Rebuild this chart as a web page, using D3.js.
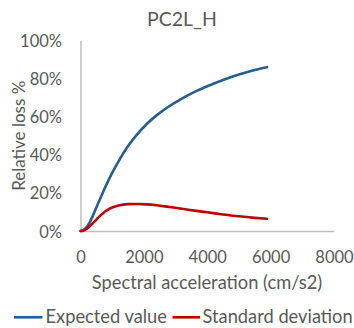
<!DOCTYPE html>
<html>
<head>
<meta charset="utf-8">
<script src="https://cdn.jsdelivr.net/npm/d3@7"></script>
<style>
  html, body { margin: 0; padding: 0; background: #fff; }
  svg { display: block; font-family: Lato, "Open Sans", sans-serif; }
</style>
</head>
<body>
<svg id="chart" width="354" height="328"></svg>
<script>
// ---- data ----
const title = "PC2L_H";
const xLabel = "Spectral acceleration (cm/s2)";
const yLabel = "Relative loss %";
const accel = [0, 100, 200, 300, 400, 500, 600, 700, 800, 900, 1000, 1200, 1500, 1800, 2100, 2400, 2800, 3200, 3600, 4000, 4500, 5000, 5500, 5886];
const expectedValue = [0, 0.006, 0.022, 0.048, 0.084, 0.123, 0.162, 0.200, 0.237, 0.272, 0.305, 0.366, 0.446, 0.510, 0.563, 0.607, 0.655, 0.695, 0.730, 0.760, 0.793, 0.821, 0.845, 0.860];
const standardDeviation = [0, 0.003, 0.012, 0.026, 0.043, 0.060, 0.077, 0.092, 0.105, 0.115, 0.123, 0.134, 0.141, 0.142, 0.140, 0.135, 0.126, 0.117, 0.107, 0.098, 0.087, 0.077, 0.069, 0.064];
const xTicks = [0, 2000, 4000, 6000, 8000];
const yTicks = [0, 0.2, 0.4, 0.6, 0.8, 1.0];
const seriesNames = ["Expected value", "Standard deviation"];
const seriesColors = ["#285E8E", "#C00000"];

// ---- layout ----
const svg = d3.select("#chart");
const textColor = "#595959";
const axisColor = "#BFBFBF";
const fontSize = 16.5;
const labelSize = 18.3;

const x = d3.scaleLinear().domain([0, 8000]).range([80.5, 334]);
const y = d3.scaleLinear().domain([0, 1]).range([231, 40.5]);

// title
svg.append("text")
  .attr("x", 182).attr("y", 26)
  .attr("text-anchor", "middle")
  .attr("fill", textColor)
  .attr("font-size", 19.5)
  .text(title);

// axes
const xAxis = d3.axisBottom(x).tickValues(xTicks).tickSize(0).tickPadding(0).tickFormat(d3.format("d"));
const gx = svg.append("g").attr("transform", `translate(0,${y(0)})`).call(xAxis);
gx.select(".domain").attr("stroke", axisColor).attr("stroke-width", 1.5);
gx.selectAll("text")
  .attr("dy", null).attr("y", 32)
  .attr("fill", textColor).attr("font-size", fontSize)
  .attr("font-family", "Lato, 'Open Sans', sans-serif");

const yAxis = d3.axisLeft(y).tickValues(yTicks).tickSize(0).tickPadding(0).tickFormat(d3.format(".0%"));
const gy = svg.append("g").attr("transform", `translate(${x(0)},0)`).call(yAxis);
gy.select(".domain").attr("stroke", axisColor).attr("stroke-width", 1.5);
gy.selectAll("text")
  .attr("dy", null).attr("x", -18.5).attr("y", 6)
  .attr("fill", textColor).attr("font-size", fontSize)
  .attr("font-family", "Lato, 'Open Sans', sans-serif");

// axis titles
svg.append("text")
  .attr("x", 207).attr("y", 288.5)
  .attr("text-anchor", "middle")
  .attr("fill", textColor).attr("font-size", labelSize)
  .text(xLabel);

svg.append("text")
  .attr("transform", `translate(25,${(y(0) + y(1)) / 2}) rotate(-90)`)
  .attr("text-anchor", "middle")
  .attr("fill", textColor).attr("font-size", 17)
  .text(yLabel);

// lines
const series = [expectedValue, standardDeviation];
const line = d3.line()
  .x((d, i) => x(accel[i]))
  .y(d => y(d))
  .curve(d3.curveMonotoneX);

series.forEach((vals, k) => {
  svg.append("path")
    .datum(vals)
    .attr("fill", "none")
    .attr("stroke", seriesColors[k])
    .attr("stroke-width", 2.6)
    .attr("stroke-linecap", "round")
    .attr("d", line);
});

// legend
const legendY = 317.3;
const legendItems = [
  { lx0: 14, lx1: 42.5, tx: 45.5 },
  { lx0: 172.5, lx1: 200, tx: 202.5 }
];
legendItems.forEach((it, k) => {
  svg.append("line")
    .attr("x1", it.lx0).attr("x2", it.lx1)
    .attr("y1", legendY).attr("y2", legendY)
    .attr("stroke", seriesColors[k]).attr("stroke-width", 2.6);
  svg.append("text")
    .attr("x", it.tx).attr("y", legendY + 5.8)
    .attr("fill", textColor).attr("font-size", labelSize)
    .text(seriesNames[k]);
});
</script>
</body>
</html>
